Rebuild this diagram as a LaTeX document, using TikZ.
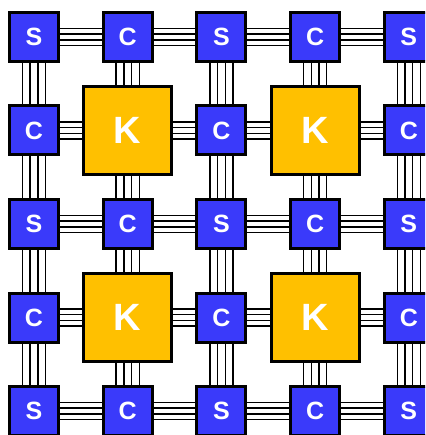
\documentclass[tikz,border=0pt]{standalone}
\usepackage{fontspec}
\setmainfont{Liberation Sans}
\definecolor{nodeblue}{RGB}{58,58,250}
\definecolor{nodeyellow}{RGB}{255,192,0}
\pgfdeclarelayer{background}
\pgfsetlayers{background,main}
\begin{document}
\begin{tikzpicture}[x=1pt,y=-1pt,
  link/.style={line width=1.5pt,black},
  smallbox/.style={draw=black,line width=3pt,fill=nodeblue,minimum size=49pt,inner sep=0pt,text=white,font=\bfseries\fontsize{25}{25}\selectfont},
  bigbox/.style={draw=black,line width=3pt,fill=nodeyellow,minimum size=88pt,inner sep=0pt,text=white,font=\bfseries\fontsize{38}{38}\selectfont}]
\useasboundingbox (0,0) rectangle (425,435);
\clip (0,0) rectangle (425,435);
\foreach \r in {0,...,4}{
  \foreach \c in {0,...,4}{
    \pgfmathtruncatemacro\kind{mod(\r,2)+mod(\c,2)}
    \ifcase\kind
      \node[smallbox] (n\r\c) at (34+93.7*\c, 37+93.5*\r) {S};
    \or
      \node[smallbox] (n\r\c) at (34+93.7*\c, 37+93.5*\r) {C};
    \or
      \node[bigbox] (n\r\c) at (34+93.7*\c, 37+93.5*\r) {K};
    \fi
  }
}
\begin{pgfonlayer}{background}
\foreach \r in {0,...,4}{
  \foreach \c/\d in {0/1,1/2,2/3,3/4}{
    \foreach \o in {-8.7,-2.9,2.9,8.7}{
      \draw[link] ([yshift=\o pt]n\r\c.center) -- ([yshift=\o pt]n\r\d.center);
    }
  }
}
\foreach \c in {0,...,4}{
  \foreach \r/\s in {0/1,1/2,2/3,3/4}{
    \foreach \o in {-11.55,-3.85,3.85,11.55}{
      \draw[link] ([xshift=\o pt]n\r\c.center) -- ([xshift=\o pt]n\s\c.center);
    }
  }
}
\end{pgfonlayer}
\end{tikzpicture}
\end{document}
